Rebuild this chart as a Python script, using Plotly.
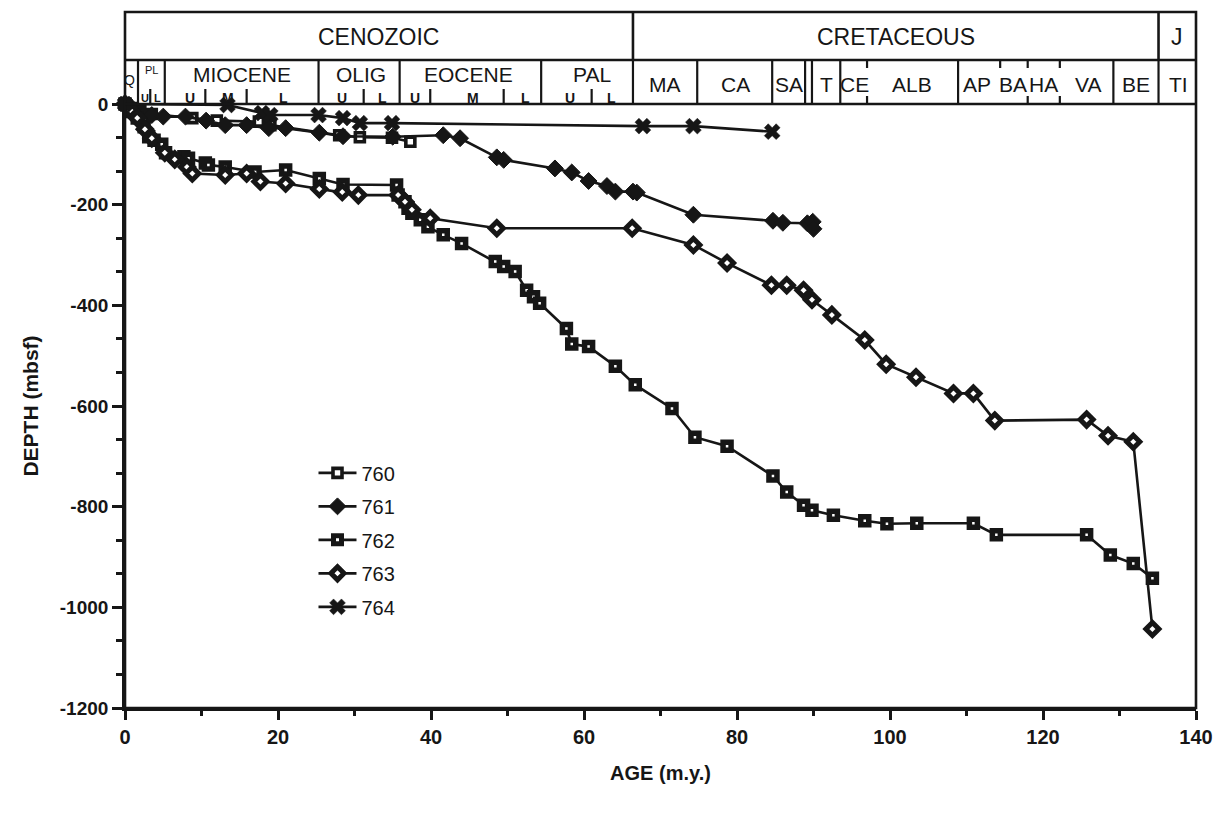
import plotly.graph_objects as go

# ---------------- data (age in m.y., depth in mbsf) ----------------
age_760 = [0, 1.0, 2.0, 3.5, 8.8, 12.0, 17.5, 19.0, 28.0, 30.7, 34.9, 37.3]
depth_760 = [0, -8, -14, -20, -28, -33, -35, -42, -62, -66, -67, -75]

age_761 = [0, 0.8, 2.0, 3.5, 5.0, 7.9, 10.6, 13.1, 15.9, 18.8, 21.0, 25.4, 28.5, 35.0,
           41.6, 43.8, 48.6, 49.5, 56.2, 58.4, 60.6, 63.0, 64.1, 66.4, 66.9, 74.3,
           84.7, 86.0, 89.2, 89.9, 90.0]
depth_761 = [0, -6, -15, -22, -25, -25, -33, -42, -42, -48, -48, -57, -64, -65,
             -62, -68, -106, -111, -128, -136, -153, -163, -174, -174, -176, -220,
             -232, -236, -237, -234, -248]

age_762 = [0, 0.8, 1.6, 2.5, 3.1, 3.8, 4.8, 5.3, 7.7, 8.3, 10.5, 10.9, 13.1, 17.0, 21.0,
           25.4, 28.5, 35.5, 35.7, 36.6, 37.0, 37.5, 38.6, 39.6, 41.6, 44.0, 48.4, 49.5,
           51.0, 52.5, 53.4, 54.2, 57.7, 58.4, 60.6, 64.1, 66.7, 71.5, 74.5, 78.7, 84.7,
           86.5, 88.7, 89.8, 92.6, 96.7, 99.6, 103.5, 110.9, 113.9, 125.7, 128.8, 131.8,
           134.3]
depth_762 = [0, -15, -28, -45, -65, -72, -80, -97, -105, -108, -117, -121, -125, -135, -131,
             -148, -160, -161, -181, -194, -207, -217, -230, -244, -260, -277, -313, -323,
             -333, -370, -383, -396, -446, -477, -482, -521, -558, -605, -662, -680, -739,
             -771, -797, -807, -817, -828, -834, -833, -833, -856, -856, -896, -913,
             -942]

age_763 = [0, 0.7, 1.6, 2.6, 3.5, 5.2, 6.5, 8.1, 8.8, 13.1, 15.9, 17.7, 21.0, 25.4, 28.4,
           30.5, 35.7, 36.6, 37.5, 39.9, 48.6, 66.3, 74.3, 78.7, 84.5, 86.5, 88.7, 89.8,
           92.4, 96.7, 99.5, 103.4, 108.3, 110.9, 113.7, 125.7, 128.5, 131.8, 134.3]
depth_763 = [0, -12, -28, -50, -68, -97, -110, -125, -138, -141, -138, -154, -158, -169, -175,
             -181, -181, -194, -210, -227, -247, -247, -280, -316, -360, -360, -370, -389,
             -419, -469, -517, -543, -575, -575, -629, -627, -659, -671, -1043]

age_764 = [0, 13.4, 17.9, 19.0, 25.3, 28.5, 30.7, 34.9, 67.7, 74.3, 84.6]
depth_764 = [0, -2, -18, -22, -22, -28, -38, -38, -44, -44, -55]

x_tick_vals = [0, 20, 40, 60, 80, 100, 120, 140]
y_tick_vals = [0, -200, -400, -600, -800, -1000, -1200]
y_tick_text = ["0", "-200", "-400", "-600", "-800", "-1000", "-1200"]

# ---------------- time-scale header ----------------
era_names = ["CENOZOIC", "CRETACEOUS", "J"]
era_bounds = [0, 66.4, 135.1, 140]
row2_bounds = [1.7, 5.2, 25.3, 35.9, 54.4, 66.4, 74.8, 84.6, 88.9, 89.8, 93.5, 108.9, 129.2, 135.1]
ceno_subticks = [3.3, 10.5, 15.9, 31.2, 39.9, 49.5, 61.0]
cret_ticks_both = [97.0, 118.0, 122.2]
cret_ticks_top = [114.4]

epoch_names = ["MIOCENE", "OLIG", "EOCENE", "PAL"]
epoch_ages = [15.3, 30.9, 44.9, 61.0]
sub_names = ["U", "M", "L", "U", "L", "U", "M", "L", "U", "L"]
sub_ages = [8.5, 13.5, 20.7, 28.3, 33.6, 37.9, 45.5, 52.3, 58.2, 63.6]
pl_sub_names = ["U", "L"]
pl_sub_ages = [2.55, 4.3]
stage_names = ["MA", "CA", "SA", "T", "CE", "ALB", "AP", "BA", "HA", "VA", "BE", "TI"]
stage_ages = [70.6, 79.8, 86.8, 91.7, 95.3, 102.9, 111.4, 116.1, 120.1, 125.9, 132.1, 137.7]

# ---------------- layout geometry ----------------
W, H = 1230, 813
ML, MR, MT, MB = 125, 34, 104, 105
PH = H - MT - MB


def py(ypix):
    return 1 + (MT - ypix) / PH


INK = "#161616"
FONT = "Liberation Sans, Arial, Helvetica, sans-serif"
LW = 2.6

fig = go.Figure()

series = [
    ("760", age_760, depth_760, dict(symbol="square", size=9, color="white",
                                     line=dict(color=INK, width=3.6))),
    ("761", age_761, depth_761, dict(symbol="diamond", size=13, color=INK,
                                     line=dict(color=INK, width=1))),
    ("762", age_762, depth_762, dict(symbol="square", size=8, color="white",
                                     line=dict(color=INK, width=5.5))),
    ("763", age_763, depth_763, dict(symbol="diamond", size=10, color="white",
                                     line=dict(color=INK, width=5))),
    ("764", age_764, depth_764, dict(symbol="x", size=14, color=INK,
                                     line=dict(color=INK, width=0.5))),
]
for name, xs, ys, mk in series:
    fig.add_trace(go.Scatter(
        x=xs, y=ys, mode="lines+markers", name=name, legendgroup=name,
        line=dict(color=INK, width=LW), marker=mk, cliponaxis=False,
    ))

shapes = []
# outer frame (plot + header)
shapes.append(dict(type="rect", xref="paper", yref="paper", x0=0, x1=1, y0=0, y1=py(12),
                   line=dict(color=INK, width=LW)))
for yp in [104, 60]:
    shapes.append(dict(type="line", xref="paper", yref="paper", x0=0, x1=1, y0=py(yp), y1=py(yp),
                       line=dict(color=INK, width=LW)))
for b in era_bounds[1:-1]:
    shapes.append(dict(type="line", xref="x", yref="paper", x0=b, x1=b, y0=py(60), y1=py(12),
                       line=dict(color=INK, width=LW)))
for b in row2_bounds:
    shapes.append(dict(type="line", xref="x", yref="paper", x0=b, x1=b, y0=py(104), y1=py(60),
                       line=dict(color=INK, width=2.2)))
for b in ceno_subticks:
    shapes.append(dict(type="line", xref="x", yref="paper", x0=b, x1=b, y0=py(104), y1=py(89),
                       line=dict(color=INK, width=2.2)))
for b in cret_ticks_both + cret_ticks_top:
    shapes.append(dict(type="line", xref="x", yref="paper", x0=b, x1=b, y0=py(68), y1=py(60),
                       line=dict(color=INK, width=2.2)))
for b in cret_ticks_both:
    shapes.append(dict(type="line", xref="x", yref="paper", x0=b, x1=b, y0=py(104), y1=py(96),
                       line=dict(color=INK, width=2.2)))

ann = []


def label(text, x, ypix, size, bold=False):
    ann.append(dict(text=text, x=x, xref="x", y=py(ypix), yref="paper", showarrow=False,
                    xanchor="center", yanchor="middle",
                    font=dict(family=FONT, size=size, color=INK,
                              weight="bold" if bold else "normal")))


for i, nm in enumerate(era_names):
    label(nm, (era_bounds[i] + era_bounds[i + 1]) / 2, 37, 23)
for nm, a in zip(epoch_names, epoch_ages):
    label(nm, a, 74.5, 21)
for nm, a in zip(sub_names, sub_ages):
    label(nm, a, 97.5, 14, bold=True)
for nm, a in zip(pl_sub_names, pl_sub_ages):
    label(nm, a, 97.5, 11, bold=True)
label("PL", 3.5, 70, 11)
label("Q", 0.55, 80, 14)
for nm, a in zip(stage_names, stage_ages):
    label(nm, a, 84, 21)

fig.update_layout(
    width=W, height=H,
    margin=dict(l=ML, r=MR, t=MT, b=MB),
    paper_bgcolor="white", plot_bgcolor="white",
    font=dict(family=FONT, color=INK),
    shapes=shapes, annotations=ann,
    showlegend=True,
    legend=dict(x=0.176, y=0.4216, xanchor="left", yanchor="top",
                traceorder="grouped", tracegroupgap=4.5,
                font=dict(family=FONT, size=20, color=INK),
                bgcolor="rgba(0,0,0,0)", itemwidth=38),
)
fig.update_xaxes(
    range=[0, 140], tickmode="array", tickvals=x_tick_vals,
    ticks="outside", ticklen=9, tickwidth=LW, tickcolor=INK,
    minor=dict(tickmode="linear", tick0=0, dtick=10, ticks="outside", ticklen=5,
               tickwidth=LW, tickcolor=INK),
    showline=True, linewidth=LW, linecolor=INK, showgrid=False, zeroline=False,
    tickfont=dict(family=FONT, size=20, color=INK, weight="bold"),
    title=dict(text="AGE (m.y.)", standoff=20,
               font=dict(family=FONT, size=20, color=INK, weight="bold")),
)
fig.update_yaxes(
    range=[-1200, 0], tickmode="array", tickvals=y_tick_vals, ticktext=y_tick_text,
    ticks="outside", ticklen=10, tickwidth=LW, tickcolor=INK,
    minor=dict(tickmode="linear", tick0=0, dtick=200 / 3, ticks="outside", ticklen=6,
               tickwidth=LW, tickcolor=INK),
    showline=True, linewidth=LW, linecolor=INK, showgrid=False, zeroline=False,
    tickfont=dict(family=FONT, size=19, color=INK, weight="bold"),
    title=dict(text="DEPTH (mbsf)", standoff=16,
               font=dict(family=FONT, size=21, color=INK, weight="bold")),
)

fig.write_html("out.html")
